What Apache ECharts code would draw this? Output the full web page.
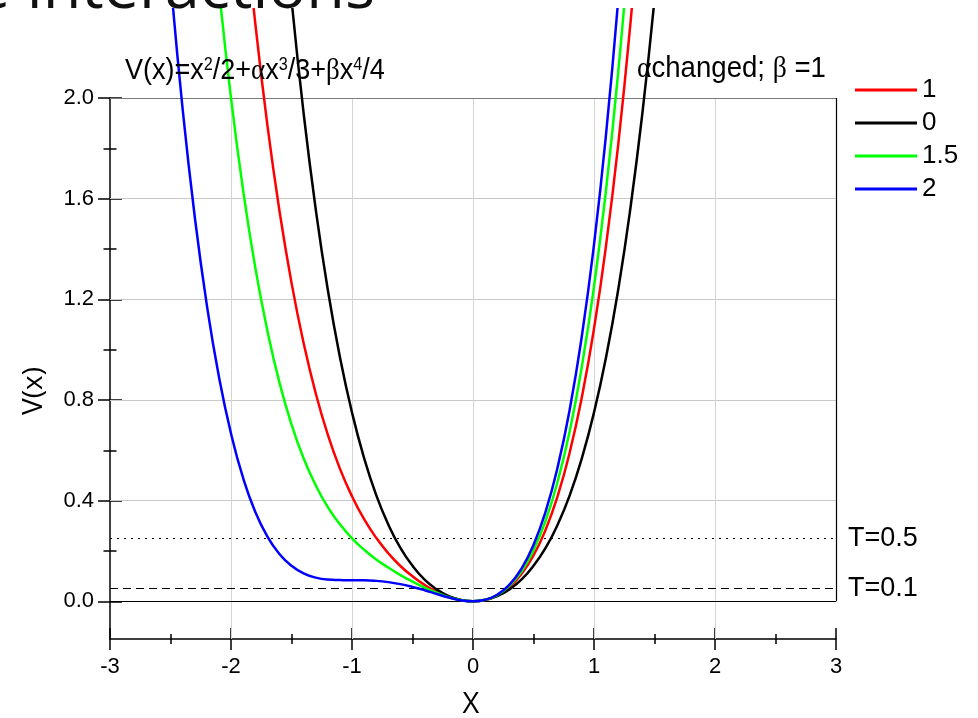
<!DOCTYPE html>
<html><head><meta charset="utf-8">
<script src="https://cdn.jsdelivr.net/npm/echarts@6/dist/echarts.min.js"></script>
<style>html,body{margin:0;padding:0;background:#fff}#c{width:978px;height:718px}</style>
</head><body><div id="c"></div>
<script>
// x sample positions
const xValues = [-2.6,-2.5,-2.4,-2.3,-2.2,-2.1,-2.0,-1.9,-1.8,-1.7,-1.6,-1.5,-1.4,-1.3,-1.2,-1.1,-1.0,-0.9,-0.8,-0.7,-0.6,-0.5,-0.4,-0.3,-0.2,-0.1,0,0.1,0.2,0.3,0.4,0.5,0.6,0.7,0.8,0.9,1.0,1.1,1.2,1.3,1.4,1.5,1.6];
// V(x) for alpha = 1 (red)
const alpha1 = [null,null,null,null,null,null,null,2.777,2.300,1.895,1.553,1.266,1.026,0.827,0.662,0.527,0.417,0.326,0.252,0.191,0.140,0.099,0.065,0.038,0.018,0.005,0,0.005,0.023,0.056,0.108,0.182,0.284,0.419,0.593,0.812,1.083,1.415,1.814,2.291,2.855,null,null];
// alpha = 0 (black)
const alpha0 = [null,null,null,null,null,null,null,null,null,null,2.918,2.391,1.940,1.559,1.238,0.971,0.750,0.569,0.422,0.305,0.212,0.141,0.086,0.047,0.020,0.005,0,0.005,0.020,0.047,0.086,0.141,0.212,0.305,0.422,0.569,0.750,0.971,1.238,1.559,1.940,2.391,2.918];
// alpha = 1.5 (green)
const alpha15 = [null,null,null,null,2.952,2.437,2.000,1.634,1.328,1.077,0.870,0.703,0.568,0.461,0.374,0.306,0.250,0.205,0.166,0.134,0.104,0.078,0.054,0.034,0.016,0.005,0,0.006,0.024,0.061,0.118,0.203,0.320,0.477,0.678,0.934,1.250,1.637,2.102,2.658,null,null,null];
// alpha = 2 (blue)
const alpha2 = [3.087,2.474,1.958,1.530,1.178,0.893,0.667,0.490,0.356,0.258,0.188,0.141,0.111,0.094,0.086,0.084,0.083,0.083,0.081,0.076,0.068,0.057,0.044,0.029,0.015,0.004,0,0.006,0.026,0.065,0.129,0.224,0.356,0.534,0.764,1.055,1.417,1.858,2.390,3.024,null,null,null];

const seriesNames = ['1','0','1.5','2'];
const seriesColors = ['#ff0000','#000000','#00ff00','#0000ff'];
const yTickLabels = [0,0.4,0.8,1.2,1.6,2.0];
const yMinorTicks = [0.2,0.6,1.0,1.4,1.8];
const yGridValues = [0.4,0.8,1.2,1.6];
const xGridValues = [-2,-1,0,1,2];
const thermalLevels = [
  {label:'T=0.5', value:0.25},
  {label:'T=0.1', value:0.05}
];

const chart = echarts.init(document.getElementById('c'), null, {renderer:'canvas'});
const curveData = [alpha1, alpha0, alpha15, alpha2];
const curveSeries = curveData.map((vals,i)=>({
  name: seriesNames[i], type:'line',
  data: xValues.map((x,j)=>[x, vals[j]]),
  showSymbol:false, symbol:'none', smooth:true, clip:false,
  lineStyle:{color:seriesColors[i], width:2.5}, itemStyle:{color:seriesColors[i]},
  z:5, animation:false, silent:true
}));

const noLabel = {show:false};
const refSeries = {
  name:'ref', type:'line', data:[], z:2, silent:true, animation:false,
  markLine:{
    silent:true, symbol:['none','none'], animation:false, label:{show:false},
    data:[
      ...yGridValues.map(v=>({yAxis:v, lineStyle:{color:'#c8c8c8', width:1, type:'solid'}, label:noLabel})),
      ...xGridValues.map(v=>({xAxis:v, lineStyle:{color:'#d4d4d4', width:1, type:'solid'}, label:noLabel})),
      {yAxis:2, lineStyle:{color:'#7a7a7a', width:1.2, type:'solid'}, label:noLabel},
      {yAxis:0, lineStyle:{color:'#000', width:1.2, type:'solid'}, label:noLabel},
      [{coord:[3,0], lineStyle:{color:'#000', width:1.2, type:'solid'}, label:noLabel},{coord:[3,2]}],
      {yAxis:thermalLevels[0].value, lineStyle:{color:'#000', width:1.2, type:[2,5]},
        label:{show:true, position:'end', formatter:thermalLevels[0].label, fontSize:27, color:'#000', fontFamily:'Liberation Sans', distance:12}},
      {yAxis:thermalLevels[1].value, lineStyle:{color:'#000', width:1.2, type:[8,5]},
        label:{show:true, position:'end', formatter:thermalLevels[1].label, fontSize:27, color:'#000', fontFamily:'Liberation Sans', distance:12}}
    ]
  }
};

const axisFont = {fontSize:22, color:'#000', fontFamily:'Liberation Sans'};
const option = {
  backgroundColor:'#fff',
  animation:false,
  grid:{left:110, right:142, top:98, bottom:79},
  legend:{
    data:seriesNames, orient:'vertical', left:850, top:72, icon:'rect',
    itemWidth:62, itemHeight:3, itemGap:7, selectedMode:false,
    textStyle:{fontSize:26, fontFamily:'Liberation Sans', color:'#000'}
  },
  xAxis:[
    {type:'value', min:-3, max:3, interval:1, position:'bottom',
      axisLine:{show:true, onZero:false, lineStyle:{color:'#000', width:1.5}},
      axisTick:{show:false}, splitLine:{show:false},
      axisLabel:Object.assign({margin:17}, axisFont)},
    {type:'value', min:-3, max:3, interval:1, position:'bottom', offset:-11,
      axisLine:{show:false, onZero:false}, axisTick:{show:true, length:22, lineStyle:{color:'#000', width:1.5}},
      axisLabel:{show:false}, splitLine:{show:false}},
    {type:'value', min:-3, max:3, interval:0.5, position:'bottom', offset:-5,
      axisLine:{show:false, onZero:false}, axisTick:{show:true, length:10, lineStyle:{color:'#000', width:1.5}},
      axisLabel:{show:false}, splitLine:{show:false}}
  ],
  yAxis:[
    {type:'value', min:-0.15, max:2, position:'left',
      axisLine:{show:true, onZero:false, lineStyle:{color:'#000', width:1.5}},
      axisTick:{show:false}, splitLine:{show:false},
      axisLabel:Object.assign({margin:16, customValues:yTickLabels, formatter:v=>Number(v).toFixed(1)}, axisFont)},
    {type:'value', min:-0.15, max:2, position:'left', offset:-12,
      axisLine:{show:false, onZero:false}, axisTick:{show:true, customValues:yTickLabels, length:24, lineStyle:{color:'#000', width:1.5}},
      axisLabel:{show:false}, splitLine:{show:false}},
    {type:'value', min:-0.15, max:2, position:'left', offset:-6.5,
      axisLine:{show:false, onZero:false}, axisTick:{show:true, customValues:yMinorTicks, length:13, lineStyle:{color:'#000', width:1.5}},
      axisLabel:{show:false}, splitLine:{show:false}}
  ],
  graphic:[
    {type:'rect', z:50, shape:{x:0, y:0, width:978, height:8}, style:{fill:'#fff'}},
    {type:'text', z:60, x:-25, y:-10, style:{text:'e interactions', font:'63px "Open Sans"', fill:'#111', align:'left', verticalAlign:'middle'}},
    {type:'text', z:60, x:125, y:56, scaleX:0.9, style:{
      text:'V(x)=x{s|2}/2+{g|α}x{s|3}/3+{g|β}x{s|4}/4',
      font:'30px "Liberation Sans"', fill:'#000', align:'left', verticalAlign:'top',
      rich:{s:{fontSize:18, fontFamily:'Liberation Sans', verticalAlign:'top'}, g:{fontSize:30, fontFamily:'Liberation Serif'}}}},
    {type:'text', z:60, x:637, y:54, scaleX:0.92, style:{
      text:'{g|α}changed; {g|β} =1',
      font:'30px "Liberation Sans"', fill:'#000', align:'left', verticalAlign:'top',
      rich:{g:{fontSize:30, fontFamily:'Liberation Serif'}}}},
    {type:'text', z:60, x:34, y:391, rotation:Math.PI/2, style:{text:'V(x)', font:'28px "Open Sans"', fill:'#000', align:'center', verticalAlign:'middle'}},
    {type:'text', z:60, x:471, y:705, style:{text:'X', font:'29px "Open Sans"', fill:'#000', align:'center', verticalAlign:'middle'}}
  ],
  series:[refSeries, ...curveSeries]
};
chart.setOption(option);
</script></body></html>
